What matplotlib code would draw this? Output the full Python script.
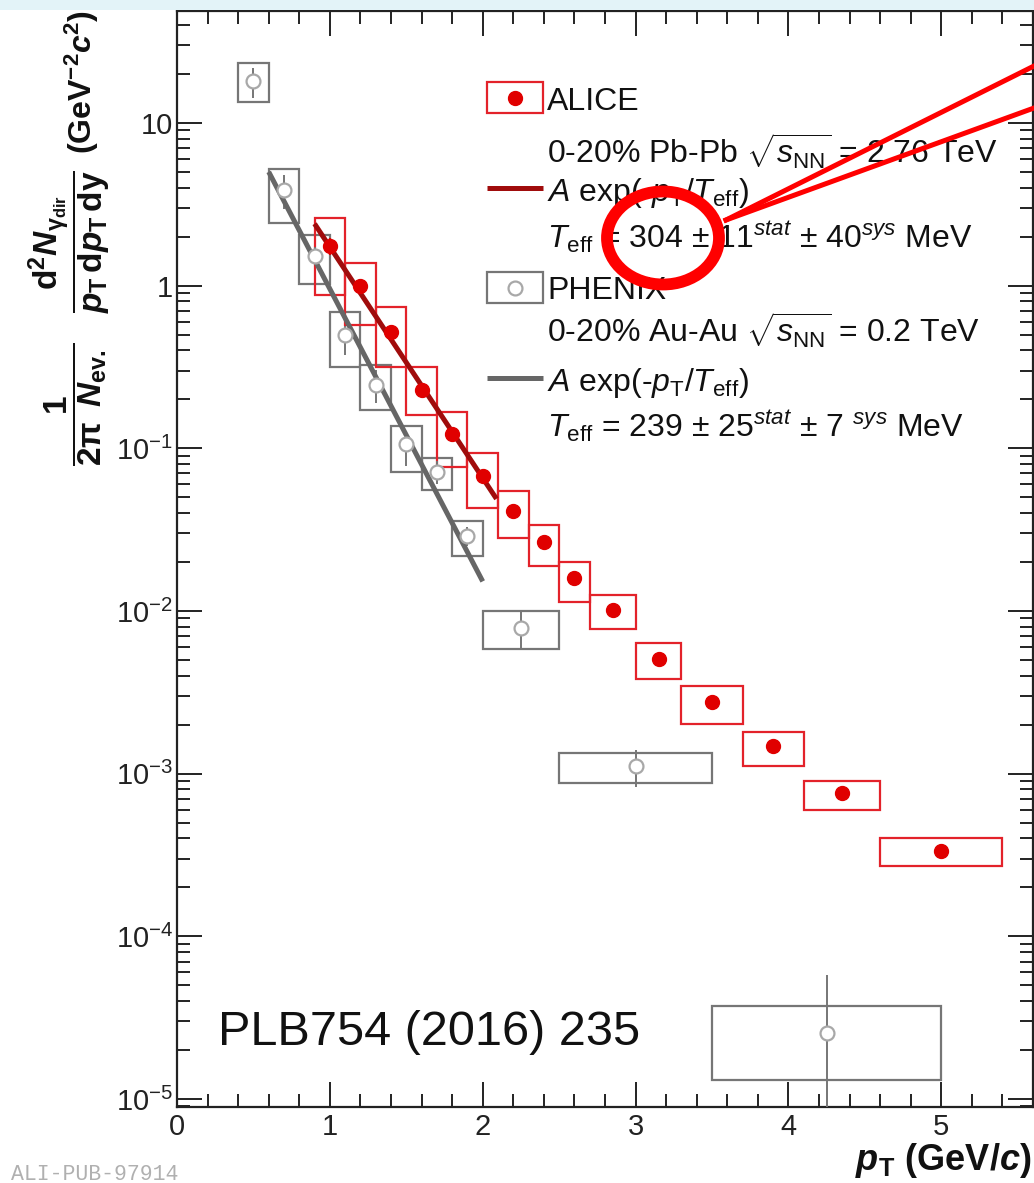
import math
import matplotlib
matplotlib.use("Agg")
import matplotlib.pyplot as plt
from matplotlib.patches import Rectangle, Ellipse
from matplotlib.lines import Line2D
from matplotlib.ticker import FixedLocator, LogLocator, MultipleLocator, FuncFormatter, NullFormatter

# ALICE 0-20% Pb-Pb, direct photon spectrum
alice_pt = [1.0, 1.2, 1.4, 1.6, 1.8, 2.0, 2.2, 2.4, 2.6, 2.85, 3.15, 3.5, 3.9, 4.35, 5.0]
alice_hw = [0.1, 0.1, 0.1, 0.1, 0.1, 0.1, 0.1, 0.1, 0.1, 0.15, 0.15, 0.2, 0.2, 0.25, 0.4]
alice_y = [1.75, 0.99, 0.52, 0.228, 0.122, 0.068, 0.041, 0.0265, 0.0159, 0.0102,
           0.0051, 0.00274, 0.00147, 0.00076, 0.000337]
alice_stat = [0.2, 0.11, 0.05, 0.018, 0.008, 0.004, 0.0022, 0.0013, 0.0008, 0.0005,
              0.00025, 0.00014, 0.00008, 0.00005, 0.00003]
alice_sys_lo = [0.88, 0.57, 0.315, 0.16, 0.077, 0.043, 0.028, 0.019, 0.0113, 0.0078,
                0.0038, 0.00203, 0.00112, 0.0006, 0.000272]
alice_sys_hi = [2.6, 1.38, 0.74, 0.315, 0.167, 0.094, 0.0544, 0.034, 0.0201, 0.0126,
                0.0064, 0.00345, 0.00181, 0.0009, 0.0004]

# PHENIX 0-20% Au-Au
phenix_pt = [0.5, 0.7, 0.9, 1.1, 1.3, 1.5, 1.7, 1.9, 2.25, 3.0, 4.25]
phenix_hw = [0.1, 0.1, 0.1, 0.1, 0.1, 0.1, 0.1, 0.1, 0.25, 0.5, 0.75]
phenix_y = [18.2, 3.87, 1.52, 0.494, 0.244, 0.106, 0.0715, 0.0288, 0.0079, 0.00112, 2.55e-5]
phenix_stat_lo = [14.2, 2.95, 1.35, 0.377, 0.191, 0.078, 0.060, 0.025, 0.0058, 0.00083, 1e-6]
phenix_stat_hi = [21.9, 4.8, 1.72, 0.566, 0.303, 0.121, 0.083, 0.033, 0.0100, 0.00139, 5.8e-5]
phenix_sys_lo = [13.5, 2.44, 1.03, 0.316, 0.172, 0.0711, 0.0557, 0.0219, 0.0058, 0.000877, 1.31e-5]
phenix_sys_hi = [23.4, 5.22, 2.05, 0.684, 0.324, 0.137, 0.0873, 0.0357, 0.0100, 0.001346, 3.74e-5]

# exponential fits (end points, straight on log axis)
alice_fit_pt = [0.9, 2.09]
alice_fit_y = [2.40, 0.0489]
phenix_fit_pt = [0.6, 2.0]
phenix_fit_y = [5.0, 0.0152]

y_ticks = [1e-5, 1e-4, 1e-3, 1e-2, 1e-1, 1, 10]

RED = "#e3222a"
DOT = "#e00000"
DARKRED = "#a00c0c"
GREY = "#767676"
FITGREY = "#666666"

plt.rcParams['font.family'] = ['Liberation Sans', 'DejaVu Sans']
plt.rcParams['mathtext.fontset'] = 'custom'
plt.rcParams['mathtext.rm'] = 'Liberation Sans'
plt.rcParams['mathtext.it'] = 'Liberation Sans:italic'
plt.rcParams['mathtext.bf'] = 'Liberation Sans:bold'
plt.rcParams['mathtext.sf'] = 'Liberation Sans'
if 'mathtext.bfit' in plt.rcParams:
    plt.rcParams['mathtext.bfit'] = 'Liberation Sans:bold:italic'

W, H = 1034, 1183


def fx(px):
    return px / W


def fy(py):
    return 1 - py / H


fig = plt.figure(figsize=(W / 100, H / 100), dpi=100)
fig.patches.append(Rectangle((0, fy(10)), 1, 10 / H, transform=fig.transFigure,
                             facecolor="#e3f3f8", edgecolor="none", zorder=0))
ax = fig.add_axes([fx(177), fy(1107), fx(1033) - fx(177), fy(11) - fy(1107)])
ax.set_yscale('log')
ax.set_xlim(0, 5.6)
ax.set_ylim(10 ** -5.049, 10 ** 1.688)

# systematic boxes
ax.bar(phenix_pt, [h - l for h, l in zip(phenix_sys_hi, phenix_sys_lo)],
       width=[2 * w for w in phenix_hw], bottom=phenix_sys_lo,
       fill=False, edgecolor=GREY, linewidth=1.6, zorder=2)
ax.bar(alice_pt, [h - l for h, l in zip(alice_sys_hi, alice_sys_lo)],
       width=[2 * w for w in alice_hw], bottom=alice_sys_lo,
       fill=False, edgecolor=RED, linewidth=1.6, zorder=3)

# statistical errors
ax.errorbar(phenix_pt, phenix_y,
            yerr=[[v - l for v, l in zip(phenix_y, phenix_stat_lo)],
                  [h - v for v, h in zip(phenix_y, phenix_stat_hi)]],
            fmt='none', ecolor=GREY, elinewidth=1.4, capsize=0, zorder=4)
ax.errorbar(alice_pt, alice_y, yerr=alice_stat, fmt='none', ecolor=DOT,
            elinewidth=1.6, capsize=0, zorder=4)

# fits
ax.plot(phenix_fit_pt, phenix_fit_y, color=FITGREY, lw=3.6, zorder=5, solid_capstyle='butt')
ax.plot(alice_fit_pt, alice_fit_y, color=DARKRED, lw=3.6, zorder=5, solid_capstyle='butt')

# points
ax.plot(phenix_pt, phenix_y, 'o', ms=10, mfc='white', mec='#a8a8a8', mew=1.6, zorder=6)
ax.plot(alice_pt, alice_y, 'o', ms=10, mfc=DOT, mec=DOT, zorder=7)

# axes style (ROOT like)
ax.xaxis.set_major_locator(MultipleLocator(1))
ax.xaxis.set_minor_locator(MultipleLocator(0.2))
ax.yaxis.set_major_locator(FixedLocator(y_ticks))
ax.yaxis.set_minor_locator(LogLocator(base=10, subs=range(2, 10), numticks=20))
ax.yaxis.set_minor_formatter(NullFormatter())


def ylab(v, pos):
    if v >= 10:
        return "10"
    if v >= 1:
        return "1"
    return r"$10^{-%d}$" % int(round(-math.log10(v)))


ax.yaxis.set_major_formatter(FuncFormatter(ylab))
ax.tick_params(which='both', direction='in', top=True, right=True, width=1.4,
               labelsize=21, colors='#222222')
ax.tick_params(which='major', length=18)
ax.tick_params(which='minor', length=9.5)
ax.tick_params(axis='x', pad=4)
ax.tick_params(axis='y', pad=3)
for s in ax.spines.values():
    s.set_linewidth(1.6)
    s.set_color('#222222')

# axis titles (ROOT style: aligned to the axis end)
yfrac = (r"$\mathbf{\dfrac{1}{2\pi\;\;\mathbfit{N}_{ev.}}\quad"
         r"\dfrac{d^{2}\mathbfit{N}_{\gamma_{dir}}}{\mathbfit{p}_{T}\,d\mathbfit{p}_{T}\,dy}}$")
yunit = r"$\mathbf{(GeV^{-2}}\mathbfit{c}^{\mathbf{2}}\mathbf{)}$"
fig.text(fx(70), fy(170), yfrac, rotation=90, rotation_mode='anchor',
         ha='right', va='center', fontsize=24, color='#111111')
fig.text(fx(92), fy(10), yunit, rotation=90, rotation_mode='anchor',
         ha='right', va='baseline', fontsize=23, color='#111111')
fig.text(fx(1031), fy(1170), r"$\mathbfit{p}_{\mathbf{T}}$ $\mathbf{(GeV/}\mathbfit{c}\mathbf{)}$",
         ha='right', va='baseline', fontsize=26, color='#111111')

# legend
leg_x0, leg_x1 = 487, 543
fig.patches.append(Rectangle((fx(leg_x0), fy(113)), fx(leg_x1) - fx(leg_x0), fy(82) - fy(113),
                             transform=fig.transFigure, fill=False, edgecolor=RED, lw=1.6))
fig.patches.append(Rectangle((fx(leg_x0), fy(303)), fx(leg_x1) - fx(leg_x0), fy(272) - fy(303),
                             transform=fig.transFigure, fill=False, edgecolor=GREY, lw=1.6))
fig.lines.append(Line2D([fx((leg_x0 + leg_x1) / 2)], [fy(98)], marker='o', ms=10,
                        mfc=DOT, mec=DOT, transform=fig.transFigure))
fig.lines.append(Line2D([fx((leg_x0 + leg_x1) / 2)], [fy(288)], marker='o', ms=10,
                        mfc='white', mec='#a8a8a8', mew=1.6, transform=fig.transFigure))
fig.lines.append(Line2D([fx(leg_x0), fx(leg_x1)], [fy(188), fy(188)], color=DARKRED, lw=3.6,
                        transform=fig.transFigure, solid_capstyle='butt'))
fig.lines.append(Line2D([fx(leg_x0), fx(leg_x1)], [fy(378), fy(378)], color=FITGREY, lw=3.6,
                        transform=fig.transFigure, solid_capstyle='butt'))

leg_lines = [
    ("ALICE", 110),
    (r"0-20% Pb-Pb $\sqrt{s_{\mathrm{NN}}}$ = 2.76 TeV", 164),
    (r"$A$ exp(-$p_{\mathrm{T}}$/$T_{\mathrm{eff}}$)", 201),
    (r"$T_{\mathrm{eff}}$ = 304 ± 11$^{stat}$ ± 40$^{sys}$ MeV", 248),
    ("PHENIX", 299),
    (r"0-20% Au-Au $\sqrt{s_{\mathrm{NN}}}$ = 0.2 TeV", 343),
    (r"$A$ exp(-$p_{\mathrm{T}}$/$T_{\mathrm{eff}}$)", 391),
    (r"$T_{\mathrm{eff}}$ = 239 ± 25$^{stat}$ ± 7 $^{sys}$ MeV", 437),
]
for txt, base in leg_lines:
    fig.text(fx(547), fy(base), txt, ha='left', va='baseline', fontsize=23, color='#111111')

ax.text(0.048, 0.057, "PLB754 (2016) 235", transform=ax.transAxes, fontsize=35,
        ha='left', va='baseline', color='#111111')
fig.text(fx(11), fy(1180), "ALI-PUB-97914", fontsize=15.5, family='Liberation Mono',
         color='#b0b0b0', ha='left', va='baseline')

# red highlight drawn on top of the slide
fig.patches.append(Ellipse((fx(663), fy(238)), 112 / W, 93 / H, transform=fig.transFigure,
                           fill=False, edgecolor='#ff0000', lw=8.5, zorder=20))
for end_y in [66, 108]:
    fig.lines.append(Line2D([fx(726), fx(1034)], [fy(220), fy(end_y)], color='#ff0000', lw=3.6,
                            transform=fig.transFigure, zorder=20))

fig.savefig("out.png", dpi=100)
